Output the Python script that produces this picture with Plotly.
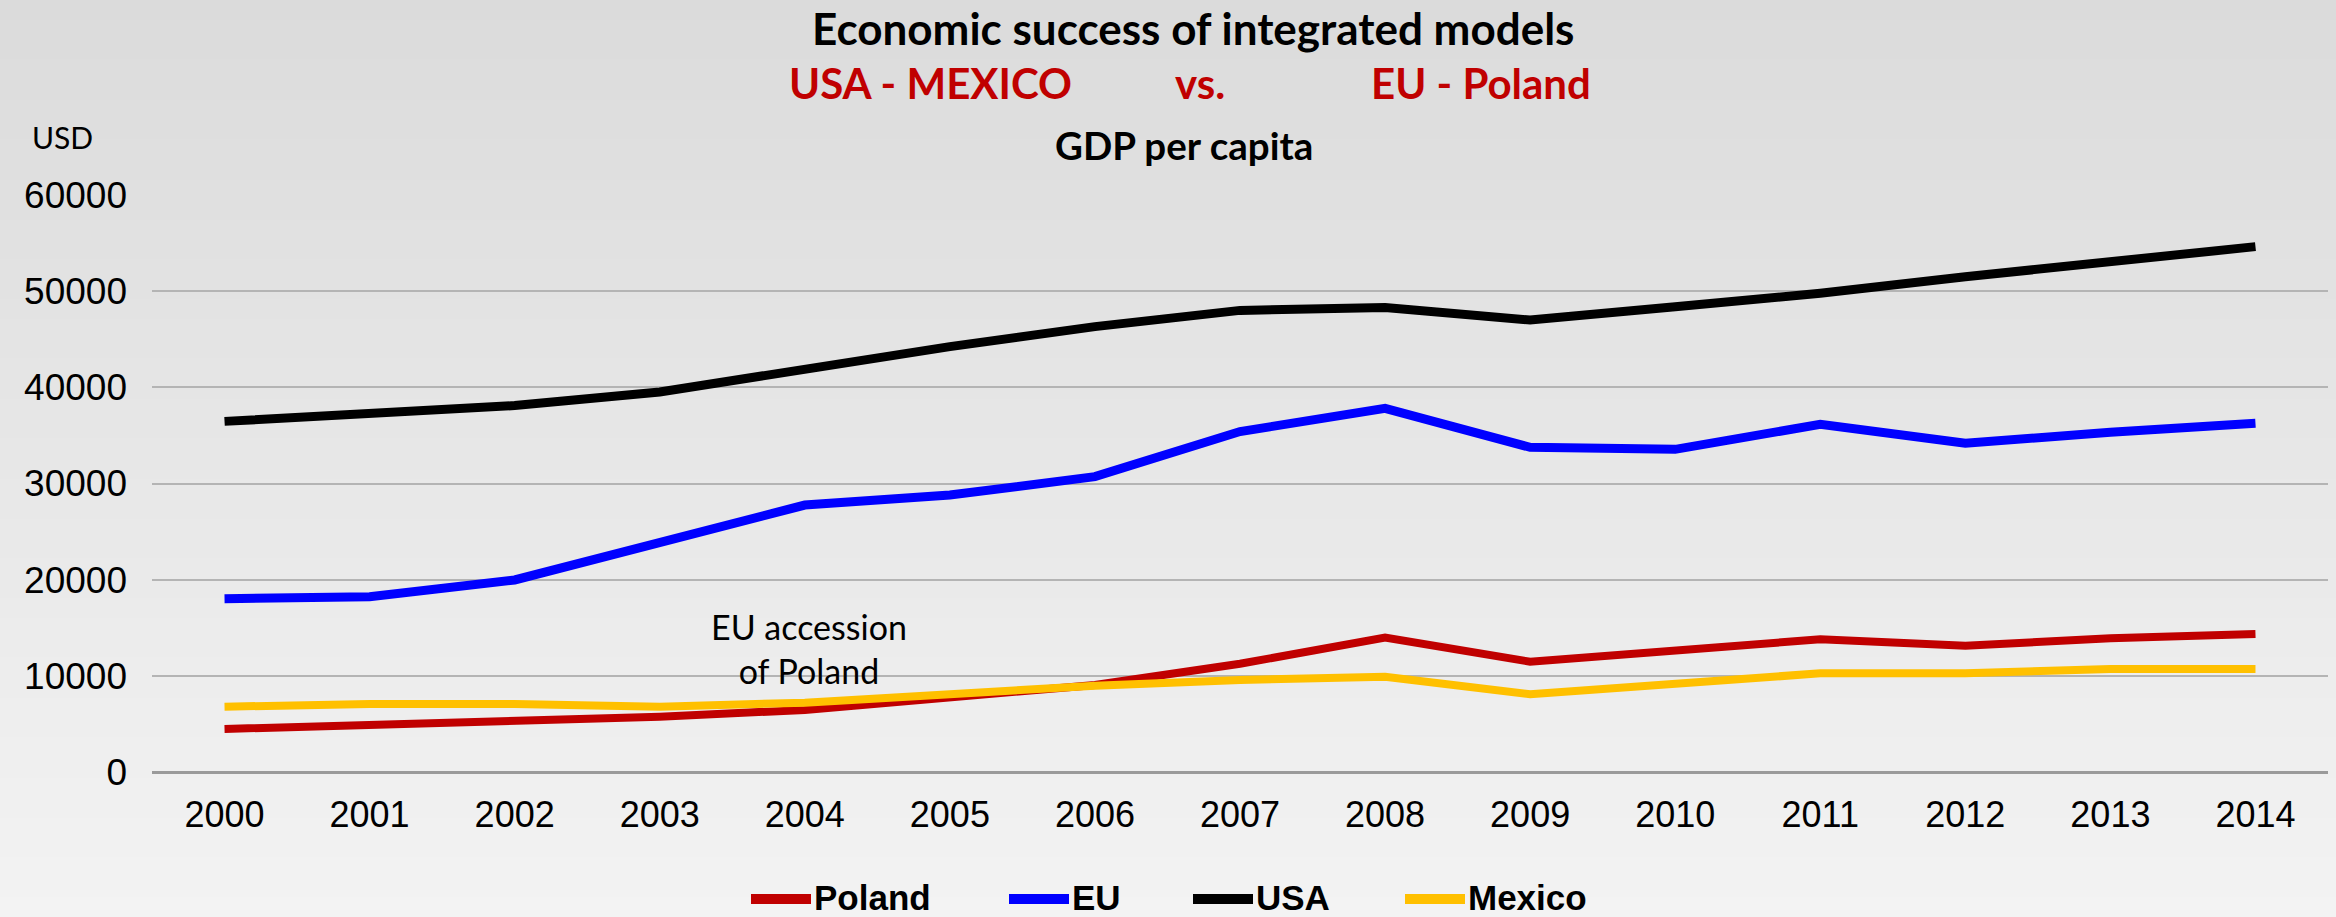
import plotly.graph_objects as go

# GDP per capita, current USD
years = [str(y) for y in range(2000, 2015)]
poland = [4470, 4890, 5160, 5750, 6450, 7830, 9050, 11250, 13970, 11470, 12580, 13800, 13140, 13900, 14350]
eu = [18020, 18230, 19970, 23950, 27760, 28800, 30710, 35400, 37820, 33760, 33550, 36150, 34180, 35320, 36260]
usa = [36460, 37190, 38100, 39520, 41880, 44230, 46310, 48000, 48290, 47000, 48390, 49780, 51500, 53070, 54630]
mexico = [6790, 7070, 7070, 6790, 7210, 8080, 8980, 9570, 9910, 8080, 9220, 10260, 10260, 10710, 10710]

series_names = ["Poland", "EU", "USA", "Mexico"]
series_values = [poland, eu, usa, mexico]
series_colors = ["#c00000", "#0000ff", "#000000", "#ffc000"]
series_widths = [8, 9, 9, 8]

W, H = 2336, 917
ML, MR, MT, MB = 152, 8, 195, 145
PW, PH = W - ML - MR, H - MT - MB

HUMANIST = "Lato, Open Sans, sans-serif"
ARIAL = "Liberation Sans, Arial, sans-serif"


def px_x(px):
    return (px - ML) / PW


def px_y(py):
    return (H - MB - py) / PH


fig = go.Figure()
for name, vals, col, w in zip(series_names, series_values, series_colors, series_widths):
    fig.add_trace(go.Scatter(
        x=years, y=vals, name=name, mode="lines",
        line=dict(color=col, width=w), showlegend=False,
    ))

shapes = []
# vertical gradient background, darker at the top
n_strips = 46
top_rgb, bot_rgb = (219, 219, 219), (243, 243, 243)
for i in range(n_strips):
    t = i / (n_strips - 1)
    c = tuple(round(a + (b - a) * t) for a, b in zip(top_rgb, bot_rgb))
    y0 = H * i / n_strips
    y1 = H * (i + 1) / n_strips + 1
    shapes.append(dict(
        type="rect", xref="paper", yref="paper", layer="below",
        x0=px_x(0), x1=px_x(W), y0=px_y(y1), y1=px_y(y0),
        fillcolor="rgb(%d,%d,%d)" % c, line=dict(width=0),
    ))

annotations = []
# legend drawn as line swatches with bold labels
legend_x = [751, 1009, 1193, 1405]
legend_y = 897
for name, col, lx in zip(series_names, series_colors, legend_x):
    shapes.append(dict(
        type="line", xref="paper", yref="paper",
        x0=px_x(lx), x1=px_x(lx + 60), y0=px_y(legend_y + 2), y1=px_y(legend_y + 2),
        line=dict(color=col, width=10),
    ))
    annotations.append(dict(
        xref="paper", yref="paper", x=px_x(lx + 61), y=px_y(legend_y),
        xanchor="left", yanchor="middle", showarrow=False,
        text="<b>%s</b>" % name, font=dict(family=ARIAL, size=35, color="#000000"),
    ))

texts = [
    ("<b>Economic success of integrated models</b>", 1193, 28, 44, "#000000"),
    ("<b>USA - MEXICO</b>", 930, 83, 42, "#c00000"),
    ("<b>vs.</b>", 1200, 83, 42, "#c00000"),
    ("<b>EU - Poland</b>", 1481, 83, 42, "#c00000"),
    ("<b>GDP per capita</b>", 1184, 145, 38.5, "#000000"),
    ("EU accession<br>of Poland", 809, 648, 34, "#000000"),
]
for txt, x, y, size, col in texts:
    annotations.append(dict(
        xref="paper", yref="paper", x=px_x(x), y=px_y(y),
        xanchor="center", yanchor="middle", showarrow=False,
        text=txt, font=dict(family=HUMANIST, size=size, color=col),
    ))
annotations.append(dict(
    xref="paper", yref="paper", x=px_x(30), y=px_y(137),
    xanchor="left", yanchor="middle", showarrow=False,
    text="USD", font=dict(family=HUMANIST, size=30, color="#000000"),
))

fig.update_layout(
    width=W, height=H,
    margin=dict(l=ML, r=MR, t=MT, b=MB, pad=0),
    paper_bgcolor="#e6e6e6",
    plot_bgcolor="rgba(0,0,0,0)",
    shapes=shapes,
    annotations=annotations,
    showlegend=False,
    xaxis=dict(
        type="category", range=[-0.5, 14.5],
        showgrid=False, zeroline=False, showline=False,
        tickfont=dict(family=ARIAL, size=36, color="#000000"),
        ticks="", ticklabelstandoff=18,
    ),
    yaxis=dict(
        range=[0, 60000], tickvals=[0, 10000, 20000, 30000, 40000, 50000, 60000],
        ticktext=["0", "10000", "20000", "30000", "40000", "50000", "60000"],
        showgrid=True, gridcolor="#b4b4b4", gridwidth=2,
        zeroline=True, zerolinecolor="#9a9a9a", zerolinewidth=3,
        showline=False, ticks="", ticklabelstandoff=24,
        tickfont=dict(family=ARIAL, size=37, color="#000000"),
    ),
)

fig.write_html("out.html")
